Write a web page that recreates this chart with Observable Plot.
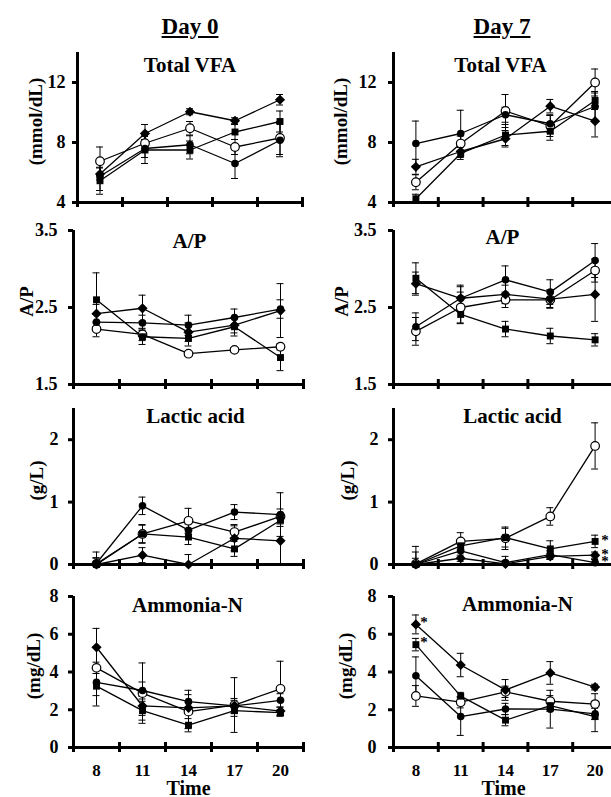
<!DOCTYPE html>
<html><head><meta charset="utf-8">
<script src="https://cdn.jsdelivr.net/npm/d3@7"></script>
<script src="https://cdn.jsdelivr.net/npm/@observablehq/plot@0.6"></script>
<style>
html, body {margin:0; padding:0; overflow:hidden; background:white;}
#chart {position:relative; width:611px; height:797px; overflow:hidden; font-family:"Liberation Serif","Times New Roman",serif; font-weight:bold; color:black;}
.day {position:absolute; font-size:23px; line-height:23px; text-decoration:underline; transform:translateX(-50%); white-space:nowrap;}
.panel {position:absolute;}
.panel svg {max-width:none; display:block;}
</style></head>
<body><div id="chart"></div>
<script>
// ---------- data ----------
const time = [8, 11, 14, 17, 20];
const xBoundaries = [6.5, 9.5, 12.5, 15.5, 18.5, 21.5];
const seriesKeys = ["open", "diamond", "square", "circle"];
const dayTitles = ["Day 0", "Day 7"];
const panelTitles = ["Total VFA", "A/P", "Lactic acid", "Ammonia-N"];
const yLabels = ["(mmol/dL)", "A/P", "(g/L)", "(mg/dL)"];
const yTicksVFA = [4, 8, 12];
const yTicksAP = [1.5, 2.5, 3.5];
const yTicksLactic = [0, 1, 2];
const yTicksAmmonia = [0, 2, 4, 6, 8];
const xLabel = "Time";

// Total VFA, Day 0
const vfaD0Mean = {diamond:[5.9,8.6,10.05,9.45,10.85], square:[5.45,7.5,7.5,8.7,9.4], open:[6.75,7.95,8.95,7.7,8.3], circle:[5.75,7.6,7.85,6.6,8.15]};
const vfaD0SE   = {diamond:[0.4,0.6,0.2,0.2,0.35], square:[0.9,0.9,0.6,0.5,0.7], open:[0.95,0.5,0.45,0.5,1.1], circle:[0.95,0.6,0.6,1.0,1.1]};
// Total VFA, Day 7
const vfaD7Mean = {circle:[7.93,8.6,9.85,9.25,10.4], diamond:[6.38,7.4,8.25,10.42,9.42], open:[5.35,7.93,10.1,9.1,12.0], square:[4.25,7.27,8.5,8.75,10.8]};
const vfaD7SE   = {circle:[1.5,1.55,0.5,0.6,0.9], diamond:[0.5,0.4,0.55,0.45,1.05], open:[0.5,0.5,1.1,0.7,0.9], square:[0.3,0.4,0.7,0.6,0.6]};
// A/P, Day 0
const apD0Mean = {square:[2.6,2.12,2.1,2.25,1.85], diamond:[2.42,2.49,2.18,2.27,2.46], circle:[2.31,2.3,2.27,2.37,2.48], open:[2.22,2.15,1.9,1.95,1.99]};
const apD0SE   = {square:[0.35,0.1,0.1,0.12,0.17], diamond:[0.12,0.17,0.12,0.1,0.35], circle:[0.1,0.1,0.13,0.11,0.12], open:[0.1,0.08,0.03,0.03,0.04]};
// A/P, Day 7
const apD7Mean = {circle:[2.25,2.62,2.86,2.7,3.11], open:[2.19,2.5,2.6,2.6,2.98], square:[2.88,2.41,2.22,2.13,2.08], diamond:[2.81,2.62,2.67,2.61,2.67]};
const apD7SE   = {circle:[0.18,0.17,0.18,0.16,0.22], open:[0.18,0.2,0.1,0.1,0.15], square:[0.2,0.12,0.1,0.1,0.08], diamond:[0.15,0.15,0.12,0.12,0.35]};
// Lactic acid, Day 0
const laD0Mean = {circle:[0.02,0.94,0.55,0.84,0.8], open:[0.01,0.49,0.7,0.52,0.77], square:[0,0.49,0.44,0.25,0.71], diamond:[0,0.15,0,0.42,0.38]};
const laD0SE   = {circle:[0.18,0.14,0.1,0.12,0.35], open:[0.1,0.15,0.2,0.12,0.12], square:[0.1,0.14,0.12,0.12,0.1], diamond:[0.05,0.12,0.16,0.2,0.38]};
// Lactic acid, Day 7
const laD7Mean = {open:[0.01,0.37,0.42,0.77,1.9], square:[0,0.3,0.43,0.25,0.37], circle:[0,0.22,0.03,0.16,0.03], diamond:[0,0.1,0.01,0.13,0.15]};
const laD7SE   = {open:[0.28,0.14,0.18,0.14,0.37], square:[0.2,0.1,0.15,0.13,0.1], circle:[0.1,0.1,0.1,0.06,0.05], diamond:[0.05,0.05,0.05,0.05,0.05]};
// Ammonia-N, Day 0
const amD0Mean = {diamond:[5.31,2.2,2.1,2.2,1.93], open:[4.22,2.88,1.9,2.25,3.11], circle:[3.45,3.02,2.43,2.2,2.5], square:[3.25,1.95,1.18,1.95,1.85]};
const amD0SE   = {diamond:[1.0,0.5,0.3,0.3,0.2], open:[0.3,1.6,0.9,1.45,1.46], circle:[0.7,0.45,0.6,0.4,0.35], square:[1.05,0.5,0.35,0.3,0.15]};
// Ammonia-N, Day 7
const amD7Mean = {diamond:[6.52,4.37,3.05,3.95,3.2], square:[5.45,2.72,1.45,2.22,1.64], circle:[3.8,1.64,2.04,2.03,1.78], open:[2.73,2.4,2.95,2.45,2.3]};
const amD7SE   = {diamond:[0.5,0.62,0.55,0.6,0.15], square:[0.33,0.2,0.3,0.3,0.8], circle:[1.0,1.0,0.3,1.0,0.3], open:[0.55,0.3,0.3,0.3,0.55]};
// significance marks (*)
const starsLaD7 = [{series:"square", time:20}, {series:"diamond", time:20}, {series:"circle", time:20}];
const starsAmD7 = [{series:"diamond", time:8}, {series:"square", time:8}];

// ---------- styles ----------
const markerStyle = {
  open:    {symbol:"circle",   fill:"white", stroke:"black", strokeWidth:1.2, r:4.3},
  diamond: {symbol:"diamond2", fill:"black", stroke:"none", r:4.6},
  square:  {symbol:"square",   fill:"black", stroke:"none", r:3.9},
  circle:  {symbol:"circle",   fill:"black", stroke:"none", r:3.8}
};
const FONT = "'Liberation Serif','Times New Roman',serif";

function makePanel(cfg) {
  const rows = [];
  for (const k of seriesKeys) cfg.mean[k].forEach((v, i) => rows.push({series:k, time:time[i], value:v, se:cfg.se[k][i]}));
  const y0 = cfg.yDomain[0];
  const marks = [
    Plot.ruleX(rows, {x:"time", y1:d => d.value - d.se, y2:d => d.value + d.se, stroke:"black", strokeWidth:1, clip:true}),
    Plot.ruleY(rows, {y:d => d.value - d.se, x1:"time", x2:"time", insetLeft:-3.5, insetRight:-3.5, stroke:"black", strokeWidth:1, clip:true}),
    Plot.ruleY(rows, {y:d => d.value + d.se, x1:"time", x2:"time", insetLeft:-3.5, insetRight:-3.5, stroke:"black", strokeWidth:1, clip:true}),
    Plot.lineY(rows, {x:"time", y:"value", z:"series", stroke:"black", strokeWidth:1.3}),
    ...seriesKeys.map(k => Plot.dot(rows.filter(d => d.series === k), {x:"time", y:"value", ...markerStyle[k]})),
    Plot.axisY({ticks:cfg.yTicks, tickSize:5, tickPadding:cfg.tickPad, tickFormat:cfg.fmt, fontSize:18, strokeWidth:3, label:null}),
    Plot.ruleX([xBoundaries[0]], {stroke:"black", strokeWidth:3}),
    Plot.ruleY([y0], {stroke:"black", strokeWidth:3}),
    Plot.ruleX(xBoundaries, {x:d => d, y1:y0, y2:y0, insetTop:5, insetBottom:5, stroke:"black", strokeWidth:3}),
    Plot.text([cfg.title], {frameAnchor:"top", dx:cfg.titleDx, dy:cfg.titleDy, lineAnchor:"middle", fontSize:21, fill:"black"}),
    Plot.text([cfg.yLabel], {frameAnchor:"left", rotate:-90, dx:cfg.labelDx, dy:-6, lineAnchor:"middle", textAnchor:"middle", fontSize:19, fill:"black"})
  ];
  if (cfg.stars) {
    const starRows = cfg.stars.map(s => ({time:s.time, value:cfg.mean[s.series][time.indexOf(s.time)]}));
    marks.push(Plot.text(starRows, {x:"time", y:"value", text:() => "*", dx:cfg.starDx, dy:cfg.starDy, lineAnchor:"middle", fontSize:15, fill:"black"}));
  }
  if (cfg.bottom) {
    marks.push(Plot.axisX({ticks:time, tickSize:0, tickPadding:16, fontSize:17, label:null}));
    marks.push(Plot.text([xLabel], {frameAnchor:"bottom", dx:cfg.timeDx, dy:47, lineAnchor:"bottom", fontSize:20, fill:"black"}));
  }
  const svg = Plot.plot({
    width:cfg.width, height:cfg.height,
    marginLeft:cfg.ml, marginRight:cfg.mr, marginTop:cfg.mt, marginBottom:cfg.mb,
    style:{fontFamily:FONT, fontWeight:"bold", fontSize:"18px", color:"black", background:"transparent", overflow:"visible"},
    x:{domain:[xBoundaries[0], xBoundaries[xBoundaries.length - 1]], axis:cfg.bottom ? undefined : null},
    y:{domain:cfg.yDomain},
    marks
  });
  const div = document.createElement("div");
  div.className = "panel";
  div.style.left = cfg.left + "px";
  div.style.top = cfg.top + "px";
  div.style.width = cfg.width + "px";
  div.appendChild(svg);
  return div;
}

const chart = document.getElementById("chart");
// day headers
[[dayTitles[0], 190], [dayTitles[1], 502]].forEach(([t, cx]) => {
  const d = document.createElement("div");
  d.className = "day"; d.textContent = t;
  d.style.left = cx + "px"; d.style.top = "15px";
  chart.appendChild(d);
});

const rowsLayout = [
  {top:40,  height:172, mt:12, mb:10, yDomain:[4, 14],   yTicks:yTicksVFA,     fmt:d3.format("d")},
  {top:218, height:176, mt:12, mb:10, yDomain:[1.5, 3.5], yTicks:yTicksAP,     fmt:d3.format(".1f")},
  {top:396, height:178, mt:12, mb:10, yDomain:[0, 2.5],  yTicks:yTicksLactic,  fmt:d3.format("d")},
  {top:584, height:213, mt:12, mb:50, yDomain:[0, 8],    yTicks:yTicksAmmonia, fmt:d3.format("d"), bottom:true}
];
const dataDay0 = [[vfaD0Mean, vfaD0SE], [apD0Mean, apD0SE], [laD0Mean, laD0SE], [amD0Mean, amD0SE]];
const dataDay7 = [[vfaD7Mean, vfaD7SE], [apD7Mean, apD7SE], [laD7Mean, laD7SE], [amD7Mean, amD7SE]];
const leftCol = [
  {ml:77, tickPad:7, labelDx:-42, titleDx:0, titleDy:13},
  {ml:73, tickPad:11, labelDx:-47, titleDx:1, titleDy:11},
  {ml:73, tickPad:10, labelDx:-37, titleDx:7, titleDy:7.5},
  {ml:73, tickPad:10, labelDx:-40, titleDx:-1, titleDy:9, timeDx:0}
];
const rightCol = [
  {ml:88, tickPad:12, labelDx:-53, titleDx:-5, titleDy:13},
  {ml:88, tickPad:12, labelDx:-52, titleDx:-3, titleDy:7},
  {ml:88, tickPad:10, labelDx:-46, titleDx:7, titleDy:7.5, stars:starsLaD7, starDx:10, starDy:-1},
  {ml:88, tickPad:12, labelDx:-48, titleDx:12, titleDy:8, timeDx:-2, stars:starsAmD7, starDx:8, starDy:-2}
];
rowsLayout.forEach((r, i) => {
  const lc = leftCol[i], rc = rightCol[i];
  chart.appendChild(makePanel({...r, ...lc, left:0, width:310, mr:310 - 303 - (lc.ml === 77 ? -1 : 0),
    mean:dataDay0[i][0], se:dataDay0[i][1], title:panelTitles[i], yLabel:yLabels[i]}));
  chart.appendChild(makePanel({...r, ...rc, left:305, width:320, mr:8,
    mean:dataDay7[i][0], se:dataDay7[i][1], title:panelTitles[i], yLabel:yLabels[i]}));
});
</script>
</body></html>
